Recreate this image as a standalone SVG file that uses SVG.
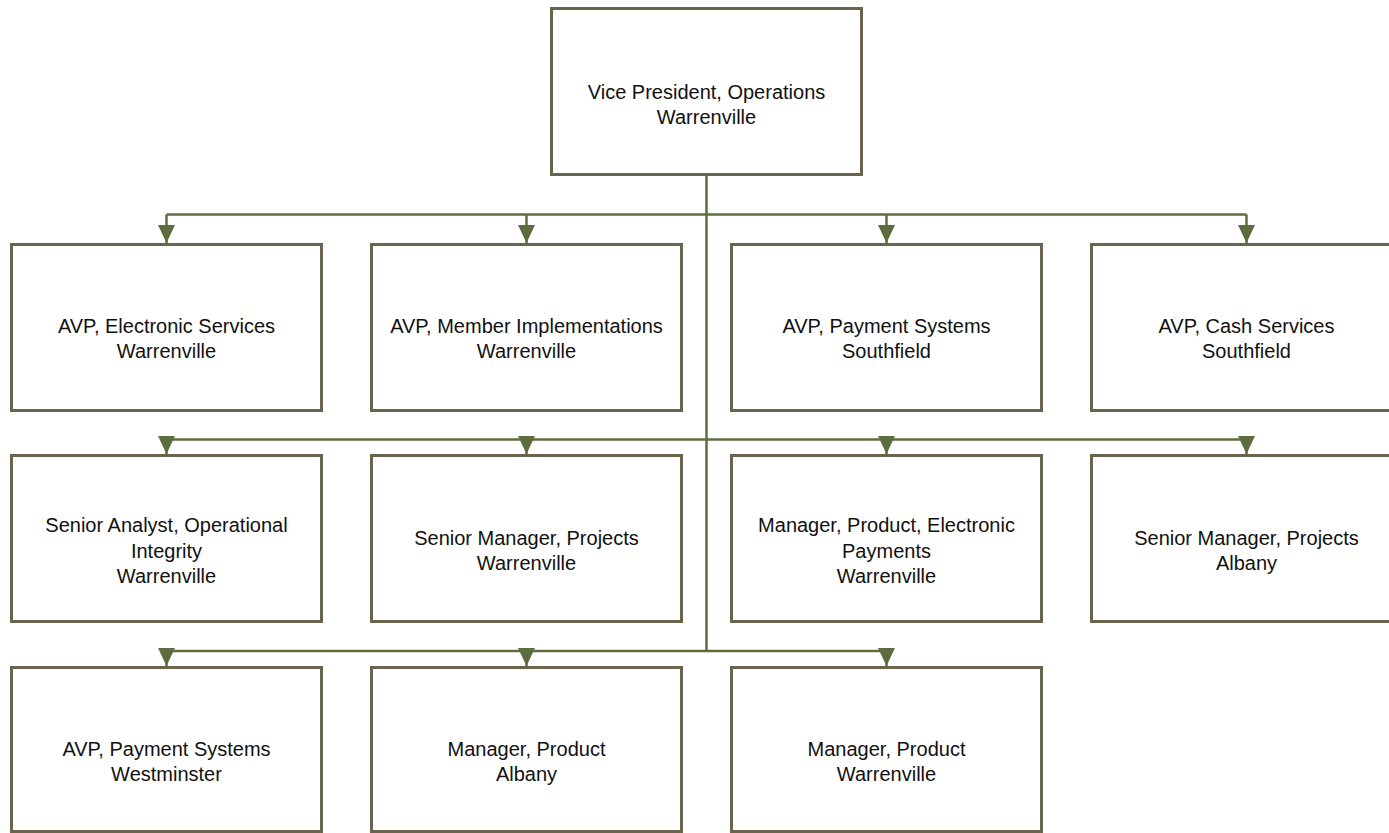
<svg xmlns="http://www.w3.org/2000/svg" width="1389" height="833" viewBox="0 0 1389 833">
<defs>
<style>
.box{fill:#ffffff;stroke:#6a644c;stroke-width:3}
.lbl{font-family:"Liberation Sans",Arial,sans-serif;font-size:20px;fill:#111111;text-anchor:middle}
.bus{fill:none;stroke:#5e6d40;stroke-width:2.5}
.drop{fill:none;stroke:#5e6d40;stroke-width:2.5;marker-end:url(#arr)}
</style>
<marker id="arr" markerUnits="userSpaceOnUse" markerWidth="18" markerHeight="18" refX="18" refY="8.5" orient="auto">
<path d="M0,0 L18,8.5 L0,17 Z" fill="#5e6d40"/>
</marker>
</defs>
<rect width="1389" height="833" fill="#ffffff"/>
<g id="connectors">
<path class="bus" d="M706.5,175 V651"/>
<path class="bus" d="M166.5,214.5 H1246.5"/>
<path class="drop" d="M166.5,214.5 V243"/>
<path class="drop" d="M526.5,214.5 V243"/>
<path class="drop" d="M886.5,214.5 V243"/>
<path class="drop" d="M1246.5,214.5 V243"/>
<path class="bus" d="M166.5,439.5 H1246.5"/>
<path class="drop" d="M166.5,436 V454"/>
<path class="drop" d="M526.5,436 V454"/>
<path class="drop" d="M886.5,436 V454"/>
<path class="drop" d="M1246.5,436 V454"/>
<path class="bus" d="M166.5,651 H886.5"/>
<path class="drop" d="M166.5,648 V666"/>
<path class="drop" d="M526.5,648 V666"/>
<path class="drop" d="M886.5,648 V666"/>
</g>
<g id="vp">
<rect class="box" x="551.5" y="8.5" width="310" height="166"/>
<text class="lbl" x="706.5" y="99">Vice President, Operations</text>
<text class="lbl" x="706.5" y="124">Warrenville</text>
</g>
<g id="avp-electronic">
<rect class="box" x="11.5" y="244.5" width="310" height="166"/>
<text class="lbl" x="166.5" y="333">AVP, Electronic Services</text>
<text class="lbl" x="166.5" y="358">Warrenville</text>
</g>
<g id="avp-member">
<rect class="box" x="371.5" y="244.5" width="310" height="166"/>
<text class="lbl" x="526.5" y="333">AVP, Member Implementations</text>
<text class="lbl" x="526.5" y="358">Warrenville</text>
</g>
<g id="avp-payment-southfield">
<rect class="box" x="731.5" y="244.5" width="310" height="166"/>
<text class="lbl" x="886.5" y="333">AVP, Payment Systems</text>
<text class="lbl" x="886.5" y="358">Southfield</text>
</g>
<g id="avp-cash">
<rect class="box" x="1091.5" y="244.5" width="310" height="166"/>
<text class="lbl" x="1246.5" y="333">AVP, Cash Services</text>
<text class="lbl" x="1246.5" y="358">Southfield</text>
</g>
<g id="senior-analyst">
<rect class="box" x="11.5" y="455.5" width="310" height="166"/>
<text class="lbl" x="166.5" y="532">Senior Analyst, Operational</text>
<text class="lbl" x="166.5" y="557.5">Integrity</text>
<text class="lbl" x="166.5" y="583">Warrenville</text>
</g>
<g id="senior-manager-warrenville">
<rect class="box" x="371.5" y="455.5" width="310" height="166"/>
<text class="lbl" x="526.5" y="545">Senior Manager, Projects</text>
<text class="lbl" x="526.5" y="570">Warrenville</text>
</g>
<g id="manager-electronic-payments">
<rect class="box" x="731.5" y="455.5" width="310" height="166"/>
<text class="lbl" x="886.5" y="532">Manager, Product, Electronic</text>
<text class="lbl" x="886.5" y="557.5">Payments</text>
<text class="lbl" x="886.5" y="583">Warrenville</text>
</g>
<g id="senior-manager-albany">
<rect class="box" x="1091.5" y="455.5" width="310" height="166"/>
<text class="lbl" x="1246.5" y="545">Senior Manager, Projects</text>
<text class="lbl" x="1246.5" y="570">Albany</text>
</g>
<g id="avp-payment-westminster">
<rect class="box" x="11.5" y="667.5" width="310" height="164"/>
<text class="lbl" x="166.5" y="756">AVP, Payment Systems</text>
<text class="lbl" x="166.5" y="781">Westminster</text>
</g>
<g id="manager-albany">
<rect class="box" x="371.5" y="667.5" width="310" height="164"/>
<text class="lbl" x="526.5" y="756">Manager, Product</text>
<text class="lbl" x="526.5" y="781">Albany</text>
</g>
<g id="manager-warrenville">
<rect class="box" x="731.5" y="667.5" width="310" height="164"/>
<text class="lbl" x="886.5" y="756">Manager, Product</text>
<text class="lbl" x="886.5" y="781">Warrenville</text>
</g>
</svg>
